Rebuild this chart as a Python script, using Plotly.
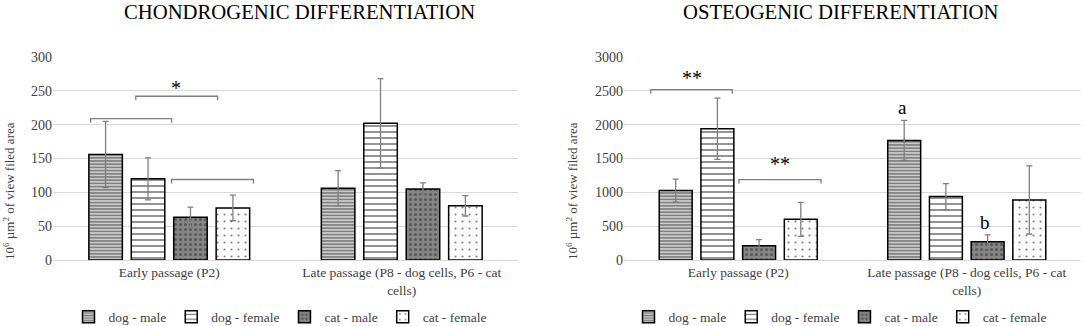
import plotly.graph_objects as go

# ---- data ----
categories = ["Early passage (P2)", "Late passage (P8 - dog cells, P6 - cat<br>cells)"]
series = ["dog - male", "dog - female", "cat - male", "cat - female"]

chondro_vals = {
    "dog - male": [156, 106],
    "dog - female": [120, 202],
    "cat - male": [63, 105],
    "cat - female": [77, 80],
}
chondro_err = {
    "dog - male": [49, 26],
    "dog - female": [31, 66],
    "cat - male": [15, 9],
    "cat - female": [19, 15],
}
osteo_vals = {
    "dog - male": [1026, 1767],
    "dog - female": [1940, 937],
    "cat - male": [212, 271],
    "cat - female": [601, 888],
}
osteo_err = {
    "dog - male": [168, 296],
    "dog - female": [453, 193],
    "cat - male": [88, 99],
    "cat - female": [252, 504],
}
y_ticks_chondro = [0, 50, 100, 150, 200, 250, 300]
y_ticks_osteo = [0, 500, 1000, 1500, 2000, 2500, 3000]

# ---- styles ----
FONT = "Liberation Serif"
patterns = {
    "dog - male": dict(shape="-", fgcolor="#000000", bgcolor="#ffffff", size=3.2, solidity=0.7),
    "dog - female": dict(shape="-", fgcolor="#000000", bgcolor="#ffffff", size=6, solidity=0.28),
    "cat - male": dict(shape=".", fgcolor="#2e2e2e", bgcolor="#858585", size=5, solidity=0.3),
    "cat - female": dict(shape=".", fgcolor="#000000", bgcolor="#ffffff", size=7, solidity=0.07),
}
W, H = 1084, 326

fig = go.Figure()

def add_bars(vals, errs, xa, ya, legend):
    for s in series:
        fig.add_trace(go.Bar(
            name=s, x=categories, y=vals[s],
            xaxis=xa, yaxis=ya, legend=legend,
            marker=dict(pattern=patterns[s], line=dict(color="#000000", width=1.5)),
            error_y=dict(type="data", array=errs[s], color="#7f7f7f", thickness=1.3, width=3),
        ))

add_bars(chondro_vals, chondro_err, "x", "y", "legend")
add_bars(osteo_vals, osteo_err, "x2", "y2", "legend2")

ydom = [(H - 260) / H, (H - 57) / H]
axis_font = dict(family=FONT, size=14, color="#404040")
common_y = dict(showgrid=True, gridcolor="#d9d9d9", gridwidth=1, zeroline=False,
                showline=False, ticks="", tickfont=axis_font, domain=ydom, automargin=False)
common_x = dict(showgrid=False, showline=True, linecolor="#d9d9d9", linewidth=1, ticks="",
                tickfont=dict(family=FONT, size=13.5, color="#404040"), range=[-0.5, 1.5],
                automargin=False)
legend_common = dict(orientation="h", y=(H - 317) / H, yanchor="middle", xanchor="center",
                     font=dict(family=FONT, size=13.5, color="#404040"), itemwidth=30,
                     bgcolor="rgba(0,0,0,0)", tracegroupgap=0)

fig.update_layout(
    width=W, height=H,
    margin=dict(l=0, r=0, t=0, b=0, autoexpand=False),
    paper_bgcolor="white", plot_bgcolor="white",
    barmode="group", bargap=0.27, bargroupgap=0.21,
    font=dict(family=FONT, color="#404040"),
    xaxis=dict(common_x, domain=[53 / W, 518 / W], anchor="y"),
    yaxis=dict(common_y, range=[0, 300], tickvals=y_ticks_chondro, anchor="x"),
    xaxis2=dict(common_x, domain=[624 / W, 1081 / W], anchor="y2"),
    yaxis2=dict(common_y, range=[0, 3000], tickvals=y_ticks_osteo, anchor="x2"),
    legend=dict(legend_common, x=280 / W),
    legend2=dict(legend_common, x=840 / W),
)

# titles
for txt, xc in (("CHONDROGENIC DIFFERENTIATION", 299), ("OSTEOGENIC DIFFERENTIATION", 841)):
    fig.add_annotation(text=txt, x=xc / W, y=(H - 12) / H, xref="paper", yref="paper",
                       xanchor="center", yanchor="middle", showarrow=False,
                       font=dict(family=FONT, size=20.7, color="#000000"))
# y-axis titles
ytitle = "10<sup>6</sup> µm<sup>2</sup> of view filed area"
for xpx in (9, 572):
    fig.add_annotation(text=ytitle, x=xpx / W, y=(H - 191) / H, xref="paper", yref="paper",
                       xanchor="center", yanchor="middle", showarrow=False, textangle=-90,
                       font=dict(family=FONT, size=13, color="#404040"))

# significance brackets
def bracket(x0, x1, yv, drop, xr, yr):
    fig.add_shape(type="path", xref=xr, yref=yr,
                  path=f"M {x0},{yv - drop} L {x0},{yv} L {x1},{yv} L {x1},{yv - drop}",
                  line=dict(color="#7f7f7f", width=1.3))

def mark(text, x, y, xr, yr, size=20):
    fig.add_annotation(text=text, x=x, y=y, xref=xr, yref=yr, showarrow=False,
                       xanchor="center", yanchor="middle",
                       font=dict(family=FONT, size=size, color="#000000"))

bracket(-0.338, 0.010, 209, 6, "x", "y")
bracket(-0.144, 0.208, 242, 6, "x", "y")
bracket(0.010, 0.362, 119, 6, "x", "y")
mark("*", 0.029, 254, "x", "y")

bracket(-0.383, -0.026, 2517, 60, "x2", "y2")
bracket(0.003, 0.362, 1189, 60, "x2", "y2")
mark("**", -0.204, 2690, "x2", "y2")
mark("**", 0.183, 1420, "x2", "y2")
mark("a", 0.72, 2260, "x2", "y2", 19)
mark("b", 1.08, 557, "x2", "y2", 19)

fig.write_html("out.html", config={"displayModeBar": False},
               post_script="document.body.style.margin='0';document.body.style.padding='0';")
